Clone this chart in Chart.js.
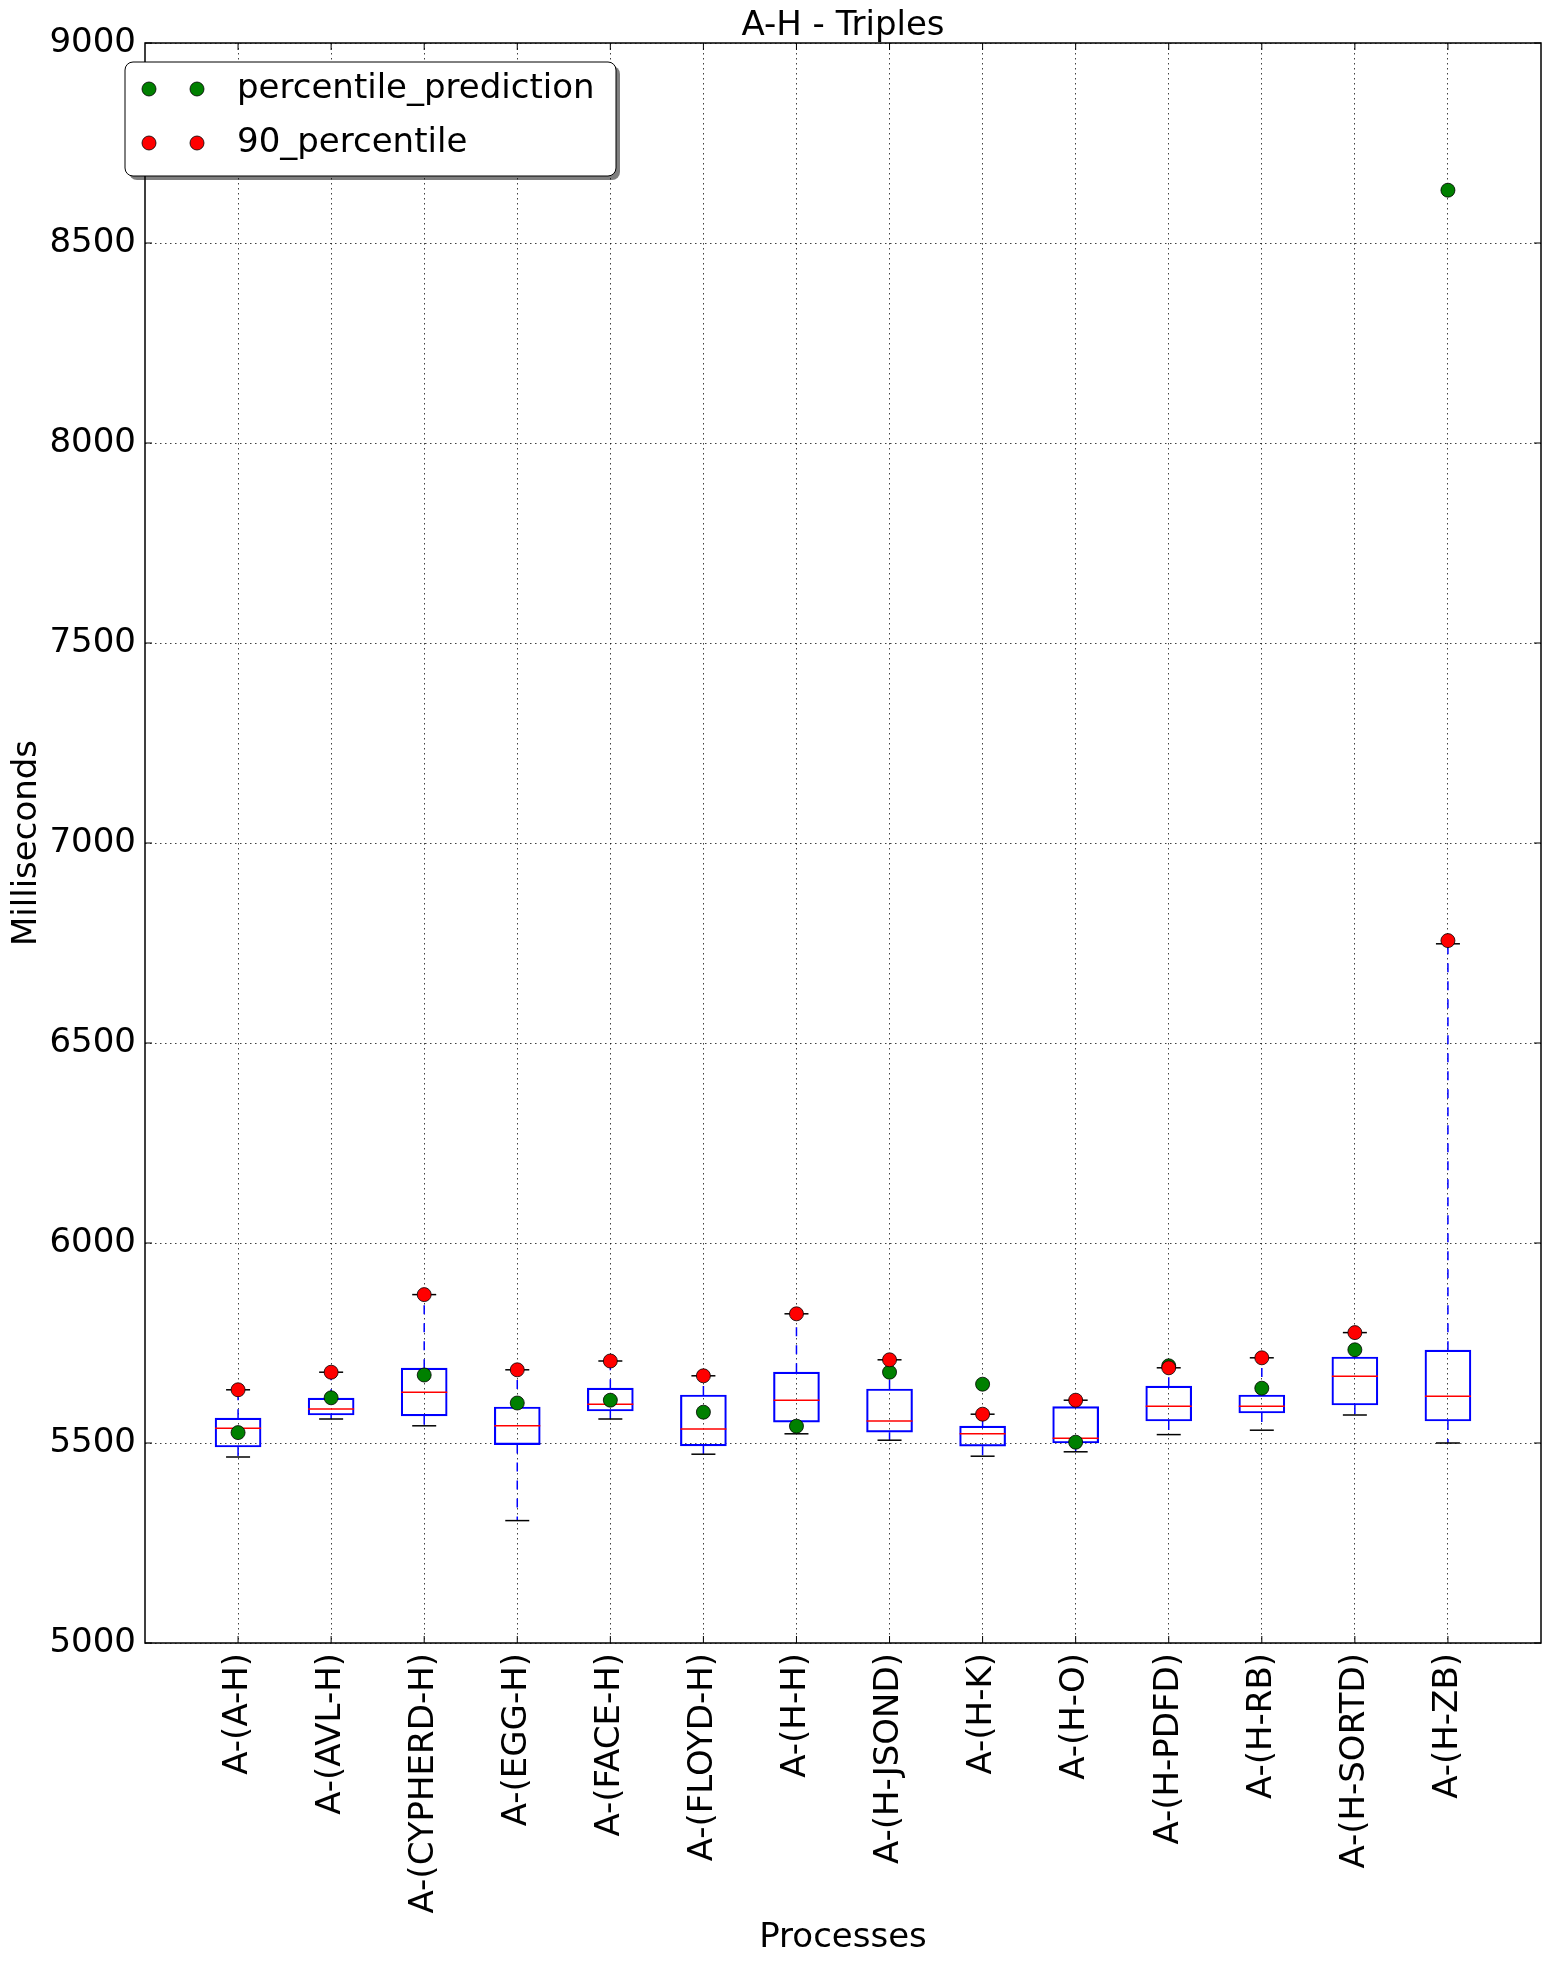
<!DOCTYPE html>
<html>
<head>
<meta charset="utf-8">
<script src="https://cdn.jsdelivr.net/npm/chart.js@4.4.1/dist/chart.umd.min.js"></script>
<style>
  html, body { margin: 0; background: #fff; overflow: hidden; }
  #wrap { width: 1549px; height: 1967px; }
  canvas { display: block; }
</style>
</head>
<body>
<div id="wrap"><canvas id="chart"></canvas></div>
<script>
// process names on the x axis
const categories = ['A-(A-H)', 'A-(AVL-H)', 'A-(CYPHERD-H)', 'A-(EGG-H)', 'A-(FACE-H)', 'A-(FLOYD-H)', 'A-(H-H)',
  'A-(H-JSOND)', 'A-(H-K)', 'A-(H-O)', 'A-(H-PDFD)', 'A-(H-RB)', 'A-(H-SORTD)', 'A-(H-ZB)'];

// box plot values (ms)
const whiskerLow  = [5465, 5560, 5543, 5306, 5560, 5472, 5523, 5507, 5467, 5478, 5521, 5532, 5570, 5500];
const q1          = [5490, 5570, 5568, 5496, 5580, 5493, 5552, 5527, 5492, 5500, 5555, 5575, 5595, 5555];
const median      = [5537, 5585, 5627, 5543, 5597, 5535, 5607, 5555, 5523, 5512, 5592, 5592, 5667, 5617];
const q3          = [5562, 5612, 5687, 5590, 5637, 5620, 5677, 5635, 5542, 5591, 5642, 5620, 5715, 5732];
const whiskerHigh = [5633, 5677, 5871, 5683, 5705, 5668, 5823, 5708, 5572, 5607, 5688, 5713, 5776, 6748];

// scatter series
const percentile90 = [5633, 5677, 5871, 5683, 5705, 5668, 5823, 5708, 5572, 5607, 5688, 5713, 5776, 6756];
const prediction   = [5526, 5613, 5670, 5600, 5607, 5577, 5542, 5677, 5647, 5502, 5693, 5637, 5733, 8632];

// y axis ticks
const yTicks = [5000, 5500, 6000, 6500, 7000, 7500, 8000, 8500, 9000];

const FONT = 'DejaVu Sans';
const FS = 34;
const R = 7;

const pts = arr => arr.map((v, i) => ({ x: i + 1, y: v }));

let whiskers = [];
categories.forEach((c, i) => {
  whiskers.push({ x: i + 1, y: q3[i] }, { x: i + 1, y: whiskerHigh[i] }, { x: i + 1, y: null });
  whiskers.push({ x: i + 1, y: q1[i] }, { x: i + 1, y: whiskerLow[i] }, { x: i + 1, y: null });
});
let caps = [];
categories.forEach((c, i) => {
  caps.push({ x: i + 1, y: whiskerLow[i] }, { x: i + 1, y: whiskerHigh[i] });
});

const legendItems = [
  { text: 'percentile_prediction', color: '#008000' },
  { text: '90_percentile', color: '#ff0000' }
];

function dot(ctx, x, y, color) {
  ctx.beginPath();
  ctx.arc(x, y, R, 0, Math.PI * 2);
  ctx.fillStyle = color;
  ctx.fill();
  ctx.lineWidth = 0.8;
  ctx.strokeStyle = '#000';
  ctx.stroke();
}

function roundRect(ctx, x, y, w, h, r) {
  ctx.beginPath();
  ctx.moveTo(x + r, y);
  ctx.arcTo(x + w, y, x + w, y + h, r);
  ctx.arcTo(x + w, y + h, x, y + h, r);
  ctx.arcTo(x, y + h, x, y, r);
  ctx.arcTo(x, y, x + w, y, r);
  ctx.closePath();
}

// frame, inward ticks, title and legend, matplotlib style
const decorations = {
  id: 'decorations',
  afterDraw(chart) {
    const { ctx, chartArea: a, scales: { x, y } } = chart;
    ctx.save();
    ctx.strokeStyle = '#000';
    ctx.lineWidth = 1;
    ctx.beginPath();
    y.ticks.forEach(t => {
      const py = y.getPixelForValue(t.value);
      ctx.moveTo(a.left, py); ctx.lineTo(a.left + 7, py);
      ctx.moveTo(a.right - 7, py); ctx.lineTo(a.right, py);
    });
    x.ticks.forEach(t => {
      const px = x.getPixelForValue(t.value);
      ctx.moveTo(px, a.bottom); ctx.lineTo(px, a.bottom - 7);
      ctx.moveTo(px, a.top); ctx.lineTo(px, a.top + 7);
    });
    ctx.stroke();
    ctx.lineWidth = 1.5;
    ctx.strokeRect(a.left, a.top, a.right - a.left, a.bottom - a.top);

    // title
    ctx.fillStyle = '#000';
    ctx.font = FS + 'px "' + FONT + '"';
    ctx.textAlign = 'center';
    ctx.textBaseline = 'alphabetic';
    ctx.fillText('A-H - Triples', (a.left + a.right) / 2, a.top - 8);

    // legend box
    const lx = a.left - 20, ly = a.top + 19, lw = 491, lh = 114;
    roundRect(ctx, lx + 4, ly + 4, lw, lh, 8);
    ctx.fillStyle = 'rgba(0,0,0,0.5)';
    ctx.fill();
    roundRect(ctx, lx, ly, lw, lh, 8);
    ctx.fillStyle = '#fff';
    ctx.fill();
    ctx.lineWidth = 1;
    ctx.strokeStyle = '#000';
    ctx.stroke();
    legendItems.forEach((item, k) => {
      const ry = ly + 27 + k * 54;
      dot(ctx, lx + 24, ry, item.color);
      dot(ctx, lx + 72, ry, item.color);
      ctx.fillStyle = '#000';
      ctx.textAlign = 'left';
      ctx.textBaseline = 'middle';
      ctx.fillText(item.text, lx + 112, ry);
    });
    ctx.restore();
  }
};

new Chart(document.getElementById('chart'), {
  type: 'bar',
  data: {
    datasets: [
      {
        type: 'scatter', label: '90_percentile', data: pts(percentile90),
        backgroundColor: '#ff0000', borderColor: '#000', borderWidth: 0.8, pointRadius: R
      },
      {
        type: 'scatter', label: 'percentile_prediction', data: pts(prediction),
        backgroundColor: '#008000', borderColor: '#000', borderWidth: 0.8, pointRadius: R
      },
      {
        type: 'scatter', label: 'median', data: pts(median),
        pointStyle: 'line', pointRadius: 23, borderColor: '#ff0000', borderWidth: 1.5
      },
      {
        type: 'scatter', label: 'caps', data: caps,
        pointStyle: 'line', pointRadius: 12, borderColor: '#000', borderWidth: 1.5
      },
      {
        type: 'line', label: 'whiskers', data: whiskers,
        borderColor: '#0000ff', borderWidth: 1.5, borderDash: [9, 9],
        pointRadius: 0, spanGaps: false, fill: false
      },
      {
        type: 'bar', label: 'boxes',
        data: categories.map((c, i) => ({ x: i + 1, y: [q1[i], q3[i]] })),
        backgroundColor: 'rgba(0,0,0,0)', borderColor: '#0000ff', borderWidth: 1.5,
        borderSkipped: false, barThickness: 46
      }
    ]
  },
  options: {
    responsive: true,
    maintainAspectRatio: false,
    animation: false,
    layout: { autoPadding: false, padding: { top: 43, right: 8, left: 0, bottom: 0 } },
    plugins: {
      legend: { display: false },
      tooltip: { enabled: false },
      title: { display: false }
    },
    scales: {
      x: {
        type: 'linear', min: 0, max: 15, z: 1, offset: false,
        afterBuildTicks: axis => { axis.ticks = categories.map((c, i) => ({ value: i + 1 })); },
        afterFit: axis => { axis.height = 324; axis.paddingLeft = 0; axis.paddingRight = 0; },
        ticks: {
          autoSkip: false, minRotation: 90, maxRotation: 90, padding: 10, color: '#000',
          font: { family: FONT, size: FS },
          callback: v => categories[v - 1]
        },
        grid: { offset: false, color: 'rgba(0,0,0,0.75)', lineWidth: 1, drawTicks: false },
        border: { display: false, dash: [1.5, 3.5] },
        title: { display: true, text: 'Processes', color: '#000', font: { family: FONT, size: FS }, padding: { top: 0, bottom: 8 } }
      },
      y: {
        min: 5000, max: 9000, z: 1,
        afterBuildTicks: axis => { axis.ticks = yTicks.map(v => ({ value: v })); },
        afterFit: axis => { axis.width = 145; axis.paddingTop = 0; axis.paddingBottom = 0; },
        ticks: { padding: 9, color: '#000', font: { family: FONT, size: FS }, callback: v => String(v) },
        grid: { color: 'rgba(0,0,0,0.75)', lineWidth: 1, drawTicks: false },
        border: { display: false, dash: [1.5, 3.5] },
        title: { display: true, text: 'Milliseconds', color: '#000', font: { family: FONT, size: FS }, padding: { top: 7, bottom: 0 } }
      }
    }
  },
  plugins: [decorations]
});
</script>
</body>
</html>
